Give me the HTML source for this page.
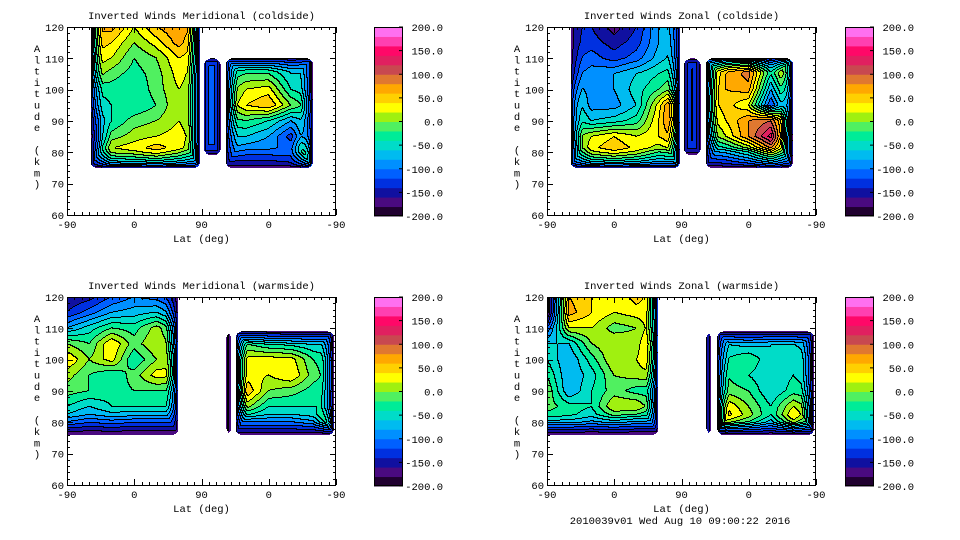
<!DOCTYPE html>
<html><head><meta charset="utf-8"><style>
body{margin:0;background:#fff;width:960px;height:540px;overflow:hidden;position:relative}
canvas{position:absolute;image-rendering:pixelated}
svg{position:absolute;left:0;top:0}
text{font-family:"Liberation Mono","DejaVu Sans Mono",monospace;font-size:10.5px;fill:#000}
</style></head><body>
<canvas id="c0" width="269" height="188" style="left:67px;top:27px"></canvas>
<canvas id="c1" width="269" height="188" style="left:547px;top:27px"></canvas>
<canvas id="c2" width="269" height="188" style="left:67px;top:297px"></canvas>
<canvas id="c3" width="269" height="188" style="left:547px;top:297px"></canvas>
<svg id="s" width="960" height="540"></svg>
<script>
const titles=["Inverted Winds Meridional (coldside)","Inverted Winds Zonal (coldside)","Inverted Winds Meridional (warmside)","Inverted Winds Zonal (warmside)"];
const alts=[120,115,110,105,100,95,90,85,80,75];
const uCols=[0,30,60,90,120,150,180,210,240,270,300,330,360];
const xTickLabels=["-90","0","90","0","-90"];
const yTickLabels=[60,70,80,90,100,110,120];
const cbarLabels=["200.0","150.0","100.0","50.0","0.0","-50.0","-100.0","-150.0","-200.0"];
const palette=['#200030','#4a0a80','#1010a0','#0030e0','#0060ff','#0090ff','#00bbf0','#00dcc8','#00ec98','#50f060','#a0f010','#ffff00','#ffd000','#ffa800','#e07830','#c84850','#e02060','#ff0868','#ff40b0','#ff70f0'];
const regions0=[[32,178,75,122],[183,206,79,110],[213,329,75,110]];
const regions1=[[32,178,75,122],[183,206,79,110],[213,329,75,110]];
const regions2=[[0,149,76,122],[213,220,76,109],[226,357,76,109]];
const regions3=[[0,149,76,122],[213,220,76,109],[228,357,76,109]];
const bConst=[-95,-110,-130,-110];
const grid0=[
[60,60,70,20,60,80,40,-60,-60,-60,-80,-60,-60],
[60,60,40,0,30,70,20,-60,-60,-60,-80,-60,-60],
[40,40,20,-20,0,40,20,-60,-60,-60,-80,-60,-60],
[20,20,-10,-30,-10,30,0,-40,-20,-20,-60,-60,-60],
[-40,-40,-30,-40,-10,20,0,-20,20,30,-40,-60,-60],
[-60,-60,-40,-40,-20,20,0,-10,40,60,0,-40,-40],
[-110,-110,-40,-10,0,20,0,-30,-20,-40,-80,-40,-40],
[-140,-140,-10,10,20,30,0,-60,-60,-80,-130,-20,-20],
[-120,-120,30,40,60,30,-20,-80,-100,-100,-100,60,60],
[-120,-120,30,40,60,30,-20,-120,-120,-120,-100,40,40]];
const grid1=[
[-140,-140,-140,-170,-140,-80,-60,-40,40,60,-40,60,60],
[-140,-140,-130,-150,-130,-80,-50,-40,40,60,-40,60,60],
[-130,-130,-110,-130,-110,-70,-40,-40,40,60,-40,60,60],
[-110,-110,-90,-80,-60,-40,-20,-20,60,90,-40,80,80],
[-60,-60,-90,-80,-50,-20,20,0,60,70,-80,40,40],
[-20,-20,-90,-90,-60,30,140,20,50,20,-120,0,0],
[-20,-20,-60,-50,-30,40,140,0,40,80,100,-20,-20],
[-20,-20,20,40,20,40,80,-30,20,80,150,-60,-60],
[-60,-60,40,60,40,0,20,-80,-60,-20,60,-40,-40],
[-60,-60,40,60,40,0,20,-120,-100,-60,0,-80,-80]];
const grid2=[
[-160,-150,-120,-100,-110,-140,-140,-120,-120,-120,-120,-120,-120],
[-140,-110,-80,-70,-60,-100,-100,-120,-120,-120,-120,-120,-120],
[-80,-50,-20,-30,10,-40,-40,-120,-120,-120,-120,-120,-120],
[0,-20,40,-10,20,-20,-20,-40,-20,-40,-50,-60,-60],
[40,0,30,-40,0,30,30,20,30,30,30,-20,-40],
[10,-20,-40,-10,30,20,20,20,30,20,40,-10,-40],
[-10,-20,-30,-20,-20,-20,-20,20,60,0,-10,-30,-40],
[-40,-60,-40,-40,-40,-40,-40,-20,10,-40,-40,-40,-40],
[-80,-100,-90,-100,-100,-100,-100,-80,-80,-80,-80,-60,60],
[-150,-150,-150,-150,-150,-150,-150,-130,-130,-130,-130,-130,-130]];
const grid3=[
[-200,60,40,20,50,20,20,-120,-120,-120,-120,-120,-120],
[-200,70,40,20,30,30,30,-120,-120,-120,-120,-120,-120],
[-120,20,20,-10,0,50,50,-120,-120,-120,-120,-120,-120],
[-60,-60,0,20,10,70,70,-80,-60,-70,-60,-60,-80],
[-40,-80,-30,20,20,50,50,-20,-40,-20,-60,-40,-60],
[-20,-80,-50,0,10,20,20,-20,-20,-40,-60,-40,-60],
[0,-80,-40,-10,-30,-30,-30,20,-10,-20,-60,-30,-40],
[-10,-30,-40,20,20,-30,-30,20,40,0,-40,20,-20],
[-40,-40,-60,-40,-60,-60,-60,-40,60,20,-40,60,-20],
[-150,-150,-150,-150,-150,-150,-150,-120,-120,-120,-120,-120,-120]];
const grids=[grid0,grid1,grid2,grid3];
const regionsAll=[regions0,regions1,regions2,regions3];

const W=269,H=188;
const xs=u=>u*W/360, ys=a=>(120-a)*H/60;
const ux=px=>px*360/W, ay=py=>120-py*60/H;
function interp(g,u,a){
  let ci=0;while(ci<uCols.length-2&&uCols[ci+1]<u)ci++;
  let tu=(u-uCols[ci])/(uCols[ci+1]-uCols[ci]);
  let ri=0;while(ri<alts.length-2&&alts[ri+1]>a)ri++;
  let ta=(alts[ri]-a)/(alts[ri]-alts[ri+1]);
  tu=Math.max(0,Math.min(1,tu));ta=Math.max(0,Math.min(1,ta));
  const v00=g[ri][ci],v01=g[ri][ci+1],v10=g[ri+1][ci],v11=g[ri+1][ci+1];
  return (v00*(1-tu)+v01*tu)*(1-ta)+(v10*(1-tu)+v11*tu)*ta;
}
function hex(c){return [parseInt(c.substr(1,2),16),parseInt(c.substr(3,2),16),parseInt(c.substr(5,2),16)];}
const pal=palette.map(hex);
for(let p=0;p<4;p++){
  const cv=document.getElementById('c'+p),ctx=cv.getContext('2d');
  const img=ctx.createImageData(W,H);
  const band=new Int16Array(W*H).fill(-1);
  const regs=regionsAll[p],g=grids[p];
  for(let y=0;y<H;y++)for(let x=0;x<W;x++){
    const u=ux(x+0.5),a=ay(y+0.5);
    for(let r=0;r<regs.length;r++){
      const R=regs[r];
      if(u<R[0]||u>R[1]||a<R[2]||a>R[3])continue;
      const dl=R[0]<=0?999:x+0.5-xs(R[0]),dr=xs(R[1])-x-0.5,db=ys(R[2])-y-0.5,dt=R[3]>120?999:y+0.5-ys(R[3]);
      const rad=r===1?8:6;
      const dx=Math.min(dl,dr),dy=Math.min(db,dt);
      if(dx<rad&&dy<rad){const q=Math.hypot(rad-dx,rad-dy);if(q>rad)continue;}
      const sr=r===1?11:12;
      let w=Math.min(1,dl/sr,dr/sr,db/20,dt/14);
      w=Math.max(0,w);
      let v=r===1?bConst[p]:interp(g,u,a);
      v=-183+(v+183)*Math.sqrt(w);
      band[y*W+x]=Math.max(0,Math.min(19,Math.floor((v+200)/20)));
      break;
    }
  }
  for(let y=0;y<H;y++)for(let x=0;x<W;x++){
    const i=y*W+x,b=band[i],o=i*4;
    if(b<0){img.data[o]=img.data[o+1]=img.data[o+2]=255;img.data[o+3]=255;continue;}
    let line=false;
    if(x<W-1&&band[i+1]>=0&&band[i+1]!==b)line=true;
    if(y<H-1&&band[i+W]>=0&&band[i+W]!==b)line=true;
    const c=line?[0,0,0]:pal[b];
    img.data[o]=c[0];img.data[o+1]=c[1];img.data[o+2]=c[2];img.data[o+3]=255;
  }
  ctx.putImageData(img,0,0);
}
const svg=document.getElementById('s');const NS='http://www.w3.org/2000/svg';
function mk(t,at,txt){const e=document.createElementNS(NS,t);for(const k in at)e.setAttribute(k,at[k]);if(txt!=null)e.textContent=txt;svg.appendChild(e);return e;}
const origins=[[67,27,374,443],[547,27,845,914],[67,297,374,443],[547,297,845,914]];
const names=['meridional-coldside','zonal-coldside','meridional-warmside','zonal-warmside'];
for(let p=0;p<4;p++){
  const [ox,oy,cx,lx]=origins[p];
  const t=mk('text',{x:ox+W/2,y:oy-8,'text-anchor':'middle'},titles[p]);
  
  const f=mk('rect',{x:ox+0.5,y:oy+0.5,width:W-1,height:H,fill:'none',stroke:'#000'});
  
  let d='';
  for(let a=60;a<=120;a+=2){const y=Math.round(oy+ys(a))+0.5;const L=a%10===0?6:3;d+=`M${ox} ${y}h${L}M${ox+W} ${y}h${-L}`;}
  for(let k=0;k<=36;k++){const x=Math.round(ox+k*W/36)+0.5;const L=k%9===0?6:3;d+=`M${x} ${oy+H}v${-L}M${x} ${oy}v${L}`;}
  mk('path',{d:d,stroke:'#000','stroke-width':1,fill:'none'});
  yTickLabels.forEach(v=>{const e=mk('text',{x:ox-3,y:oy+ys(v)+4,'text-anchor':'end'},String(v));});
  xTickLabels.forEach((s,i)=>{const e=mk('text',{x:ox+i*W/4,y:oy+H+13,'text-anchor':'middle'},s);});
  const xl=mk('text',{x:ox+W/2,y:oy+H+27,'text-anchor':'middle'},'Lat (deg)');
  
  const yt='Altitude (km)';
  for(let i=0;i<yt.length;i++){const e=mk('text',{x:ox-30,y:oy+25+i*11.3,'text-anchor':'middle'},yt[i]);}
  const top=oy,bh=189,bw=29;
  for(let b=0;b<20;b++){const r=mk('rect',{x:cx,y:top+(19-b)*bh/20,width:bw,height:bh/20+0.5,fill:palette[b]});}
  mk('rect',{x:cx+0.5,y:top+0.5,width:bw-1,height:bh-1,fill:'none',stroke:'#000'});
  cbarLabels.forEach((s,i)=>{const y=top+i*bh/8;mk('line',{x1:cx+bw-4,x2:cx+bw,y1:y,y2:y,stroke:'#000'});
    const e=mk('text',{x:lx,y:y+4,'text-anchor':'end'},s);});
}
const ft=mk('text',{x:680,y:524,'text-anchor':'middle'},'2010039v01 Wed Aug 10 09:00:22 2016');

</script>
</body></html>
